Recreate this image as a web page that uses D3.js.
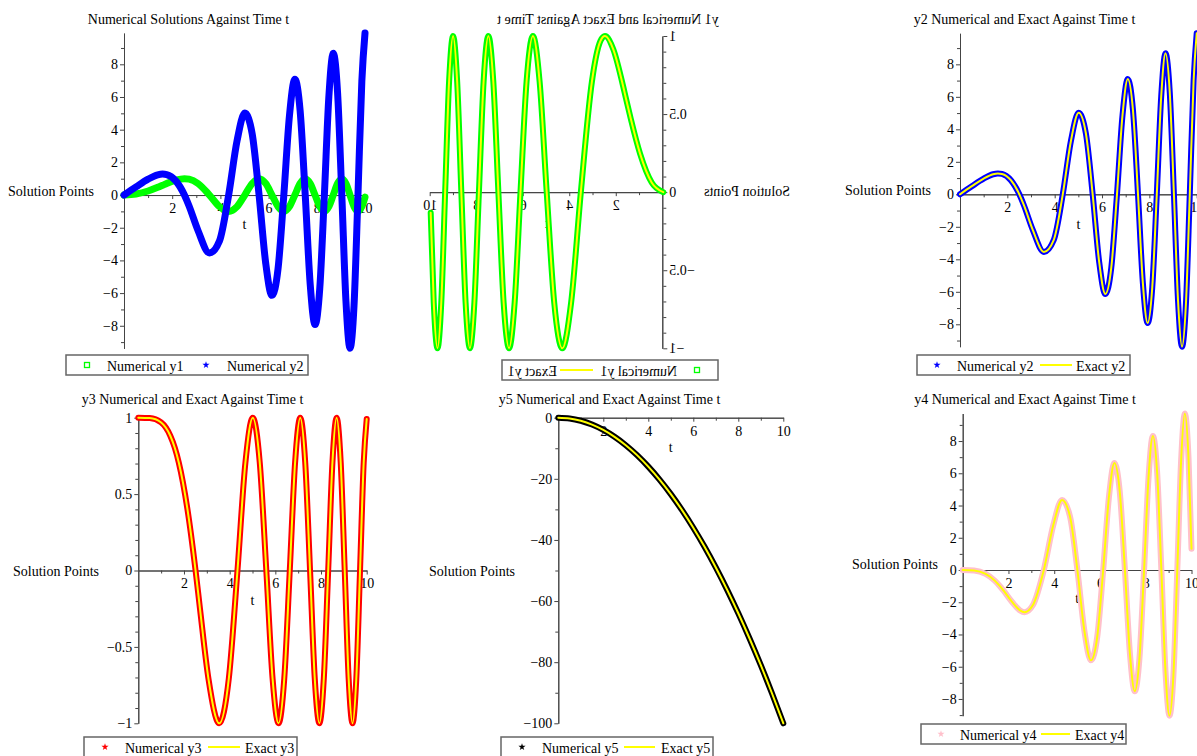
<!DOCTYPE html>
<html>
<head>
<meta charset="utf-8">
<script src="https://cdn.jsdelivr.net/npm/d3@7"></script>
<style>
  body { margin: 0; background: #fff; }
  svg { display: block; font-family: "Liberation Serif", "Times New Roman", serif; font-size: 14px; }
</style>
</head>
<body>
<svg id="chart" width="1197" height="756"></svg>
<script>
// Time samples (extrema, zero crossings, half heights)
const tVals = [0, 0.5, 1.0, 1.4, 1.6, 1.772, 2.15, 2.507, 2.7, 3.07, 3.545, 3.963, 4.342, 4.69, 5.013, 5.317,
  5.605, 5.879, 6.14, 6.391, 6.632, 6.865, 7.09, 7.308, 7.52, 7.726, 7.927, 8.122, 8.314, 8.5, 8.683, 8.862,
  9.038, 9.21, 9.379, 9.545, 9.708, 9.869, 10];

const y1Vals = [0, 0.062, 0.247, 0.471, 0.597, 0.707, 0.915, 1, 0.969,
  0.707, 0, -0.707, -1, -0.707, 0, 0.707, 1,
  0.707, 0, -0.707, -1, -0.707, 0, 0.707, 1,
  0.707, 0, -0.707, -1, -0.707, 0, 0.707, 1,
  0.707, 0, -0.707, -1, -0.707,
  -0.132];

const y2Vals = [0, 0.499, 0.969, 1.235, 1.283, 1.253, 0.867, 0, -0.672,
  -2.171, -3.545, -2.802, 0, 3.316, 5.013, 3.759, 0,
  -4.156, -6.14, -4.518, 0, 4.854, 7.09, 5.167, 0,
  -5.462, -7.927, -5.742, 0, 6.01, 8.683, 6.265, 0,
  -6.511, -9.379, -6.748, 0, 6.977,
  9.91];

const y3Vals = [1, 0.998, 0.969, 0.882, 0.802, 0.707, 0.403, 0, -0.249,
  -0.707, -1, -0.707, 0, 0.707, 1, 0.707, 0,
  -0.707, -1, -0.707, 0, 0.707, 1, 0.707, 0,
  -0.707, -1, -0.707, 0, 0.707, 1, 0.707, 0,
  -0.707, -1, -0.707, 0, 0.707,
  0.991];

const y4Vals = [0, -0.031, -0.247, -0.659, -0.955, -1.253, -1.967, -2.507, -2.616,
  -2.171, 0, 2.802, 4.342, 3.316, 0, -3.759, -5.605,
  -4.156, 0, 4.518, 6.632, 4.854, 0, -5.167, -7.52,
  -5.462, 0, 5.742, 8.314, 6.01, 0, -6.265, -9.038,
  -6.511, 0, 6.748, 9.708, 6.977,
  1.32];

const t5Vals = [0, 0.5, 1, 1.5, 2, 2.5, 3, 3.5, 4, 4.5, 5, 5.5, 6, 6.5, 7, 7.5, 8, 8.5, 9, 9.5, 10];
const y5Vals = [0, -0.25, -1, -2.25, -4, -6.25, -9, -12.25, -16, -20.25, -25, -30.25, -36, -42.25, -49,
  -56.25, -64, -72.25, -81, -90.25, -100];

// Tick values
const xMajor = [2, 4, 6, 8, 10], xMinor = [1, 3, 5, 7, 9];
const bigMajor = [-8, -6, -4, -2, 0, 2, 4, 6, 8], bigMinor = [-9, -7, -5, -3, -1, 1, 3, 5, 7, 9];
const unitMajor = [-1, -0.5, 0, 0.5, 1], unitMinor = [-0.9, -0.8, -0.7, -0.6, -0.4, -0.3, -0.2, -0.1, 0.1, 0.2, 0.3, 0.4, 0.6, 0.7, 0.8, 0.9];
const y5Major = [-100, -80, -60, -40, -20, 0], y5Minor = [-90, -70, -50, -30, -10];

const GREEN = "#00ff00", BLUE = "#0000ff", RED = "#ff0000", YELLOW = "#ffff00", PINK = "#ffc0cb", BLACK = "#000000";

const svg = d3.select("#chart");
const fmt = d => (d < 0 ? "\u2212" : "") + Math.abs(d);

// Panel layouts
const panels = [
  { x0: 124, x1: 365, yt: 33.1, yb: 348.3, title: "Numerical Solutions Against Time t", tx: 188.5, ty: 24,
    spX: 8, spY: 196, tY: 229, yMajor: bigMajor, yMinor: bigMinor,
    series: [{ t: tVals, y: y1Vals, color: GREEN, width: 7 }, { t: tVals, y: y2Vals, color: BLUE, width: 7 }],
    legend: { x: 66, y: 355, w: 242, items: [
      { kind: "square", color: GREEN, mx: 21, tx: 41, label: "Numerical y1" },
      { kind: "star", color: BLUE, mx: 140, tx: 161, label: "Numerical y2" }] } },
  { mirror: 1200, x0: 536.7, x1: 769.3, yt: 36, yb: 348.3, title: "y1 Numerical and Exact Against Time t", tx: 592, ty: 24,
    spX: 410, spY: 196, tY: 228, yMajor: unitMajor, yMinor: unitMinor,
    series: [{ t: tVals, y: y1Vals, color: GREEN, width: 6 }, { t: tVals, y: y1Vals, color: YELLOW, width: 2 }],
    legend: { x: 482, y: 360, w: 216, items: [
      { kind: "square", color: GREEN, mx: 21, tx: 41, label: "Numerical y1" },
      { kind: "line", color: YELLOW, lx1: 125, lx2: 158, tx: 161, label: "Exact y1" }] } },
  { x0: 960, x1: 1196.7, yt: 33.3, yb: 346.7, title: "y2 Numerical and Exact Against Time t", tx: 1024.5, ty: 24,
    spX: 845, spY: 195, tY: 229, yMajor: bigMajor, yMinor: bigMinor,
    series: [{ t: tVals, y: y2Vals, color: BLUE, width: 6 }, { t: tVals, y: y2Vals, color: YELLOW, width: 2 }],
    legend: { x: 917, y: 355, w: 213, items: [
      { kind: "star", color: BLUE, mx: 20, tx: 40, label: "Numerical y2" },
      { kind: "line", color: YELLOW, lx1: 123, lx2: 155, tx: 159, label: "Exact y2" }] } },
  { x0: 138.3, x1: 366.7, yt: 417.7, yb: 723.3, title: "y3 Numerical and Exact Against Time t", tx: 192.5, ty: 404,
    spX: 13, spY: 576, tY: 605, yMajor: unitMajor, yMinor: unitMinor,
    series: [{ t: tVals, y: y3Vals, color: RED, width: 6 }, { t: tVals, y: y3Vals, color: YELLOW, width: 2 }],
    legend: { x: 84, y: 737, w: 213, items: [
      { kind: "star", color: RED, mx: 21, tx: 41, label: "Numerical y3" },
      { kind: "line", color: YELLOW, lx1: 124, lx2: 156, tx: 161, label: "Exact y3" }] } },
  { x0: 558.3, x1: 783.3, yt: 417.7, yb: 723.3, title: "y5 Numerical and Exact Against Time t", tx: 609.5, ty: 404,
    spX: 429, spY: 576, tY: 451.5, yMajor: y5Major, yMinor: y5Minor,
    series: [{ t: t5Vals, y: y5Vals, color: BLACK, width: 6 }, { t: t5Vals, y: y5Vals, color: YELLOW, width: 2 }],
    legend: { x: 501, y: 737, w: 212, items: [
      { kind: "star", color: BLACK, mx: 21, tx: 41, label: "Numerical y5" },
      { kind: "line", color: YELLOW, lx1: 123, lx2: 154, tx: 160, label: "Exact y5" }] } },
  { x0: 962.7, x1: 1191.5, yt: 413.5, yb: 715.7, title: "y4 Numerical and Exact Against Time t", tx: 1025, ty: 404,
    spX: 852, spY: 569, tY: 603, yMajor: bigMajor, yMinor: bigMinor,
    series: [{ t: tVals, y: y4Vals, color: PINK, width: 6 }, { t: tVals, y: y4Vals, color: YELLOW, width: 2 }],
    legend: { x: 921, y: 724, w: 205, items: [
      { kind: "star", color: PINK, mx: 20, tx: 39, label: "Numerical y4" },
      { kind: "line", color: YELLOW, lx1: 120, lx2: 149, tx: 154, label: "Exact y4" }] } }
];

function styleAxis(sel) {
  sel.attr("font-family", null).attr("font-size", 14);
  sel.selectAll("path, line").attr("stroke", "#444");
  sel.selectAll("text").attr("fill", "#000");
}

function drawPanel(p) {
  const g = svg.append("g");
  if (p.mirror) g.attr("transform", `translate(${p.mirror},0) scale(-1,1)`);

  const x = d3.scaleLinear().domain([0, 10]).range([p.x0, p.x1]);
  const y = d3.scaleLinear().domain(d3.extent(p.series.flatMap(s => s.y))).range([p.yb, p.yt]);

  // Title & Axis Labels
  g.append("text").attr("x", p.tx).attr("y", p.ty).attr("text-anchor", "middle").text(p.title);
  g.append("text").attr("x", p.spX).attr("y", p.spY).text("Solution Points");
  g.append("text").attr("x", (p.x0 + p.x1) / 2).attr("y", p.tY).attr("text-anchor", "middle").text("t");

  // Y Axis
  g.append("g").attr("transform", `translate(${p.x0},0)`)
    .call(d3.axisLeft(y).tickValues(p.yMinor).tickSize(3).tickSizeOuter(0).tickFormat(""))
    .call(styleAxis);
  g.append("g").attr("transform", `translate(${p.x0},0)`)
    .call(d3.axisLeft(y).tickValues(p.yMajor).tickSize(4).tickSizeOuter(0).tickPadding(2).tickFormat(fmt))
    .call(styleAxis);

  // X Axis At Zero
  g.append("g").attr("transform", `translate(0,${y(0)})`)
    .call(d3.axisBottom(x).tickValues(xMinor).tickSize(3).tickSizeOuter(0).tickFormat(""))
    .call(styleAxis);
  g.append("g").attr("transform", `translate(0,${y(0)})`)
    .call(d3.axisBottom(x).tickValues(xMajor).tickSize(4).tickSizeOuter(0).tickPadding(4).tickFormat(fmt))
    .call(styleAxis);

  // Curves
  p.series.forEach(s => {
    const line = d3.line().x((d, i) => x(s.t[i])).y(d => y(d)).curve(d3.curveMonotoneX);
    g.append("path").attr("d", line(s.y)).attr("fill", "none").attr("stroke", s.color)
      .attr("stroke-width", s.width).attr("stroke-linecap", "round").attr("stroke-linejoin", "round");
  });

  // Legend
  const lg = p.legend;
  g.append("rect").attr("x", lg.x).attr("y", lg.y).attr("width", lg.w).attr("height", 20)
    .attr("fill", "#fff").attr("stroke", "#666").attr("stroke-width", 1.5);
  lg.items.forEach(it => {
    const cy = lg.y + 10;
    if (it.kind === "square") {
      g.append("rect").attr("x", lg.x + it.mx - 2.5).attr("y", cy - 2.5).attr("width", 5).attr("height", 5)
        .attr("fill", "none").attr("stroke", it.color).attr("stroke-width", 1.3);
    } else if (it.kind === "star") {
      g.append("path").attr("d", d3.symbol(d3.symbolStar, 16)())
        .attr("transform", `translate(${lg.x + it.mx},${cy})`).attr("fill", it.color);
    } else {
      g.append("line").attr("x1", lg.x + it.lx1).attr("x2", lg.x + it.lx2).attr("y1", cy).attr("y2", cy)
        .attr("stroke", it.color).attr("stroke-width", 2);
    }
    g.append("text").attr("x", lg.x + it.tx).attr("y", lg.y + 15.5).text(it.label);
  });
}

panels.forEach(drawPanel);
</script>
</body>
</html>
